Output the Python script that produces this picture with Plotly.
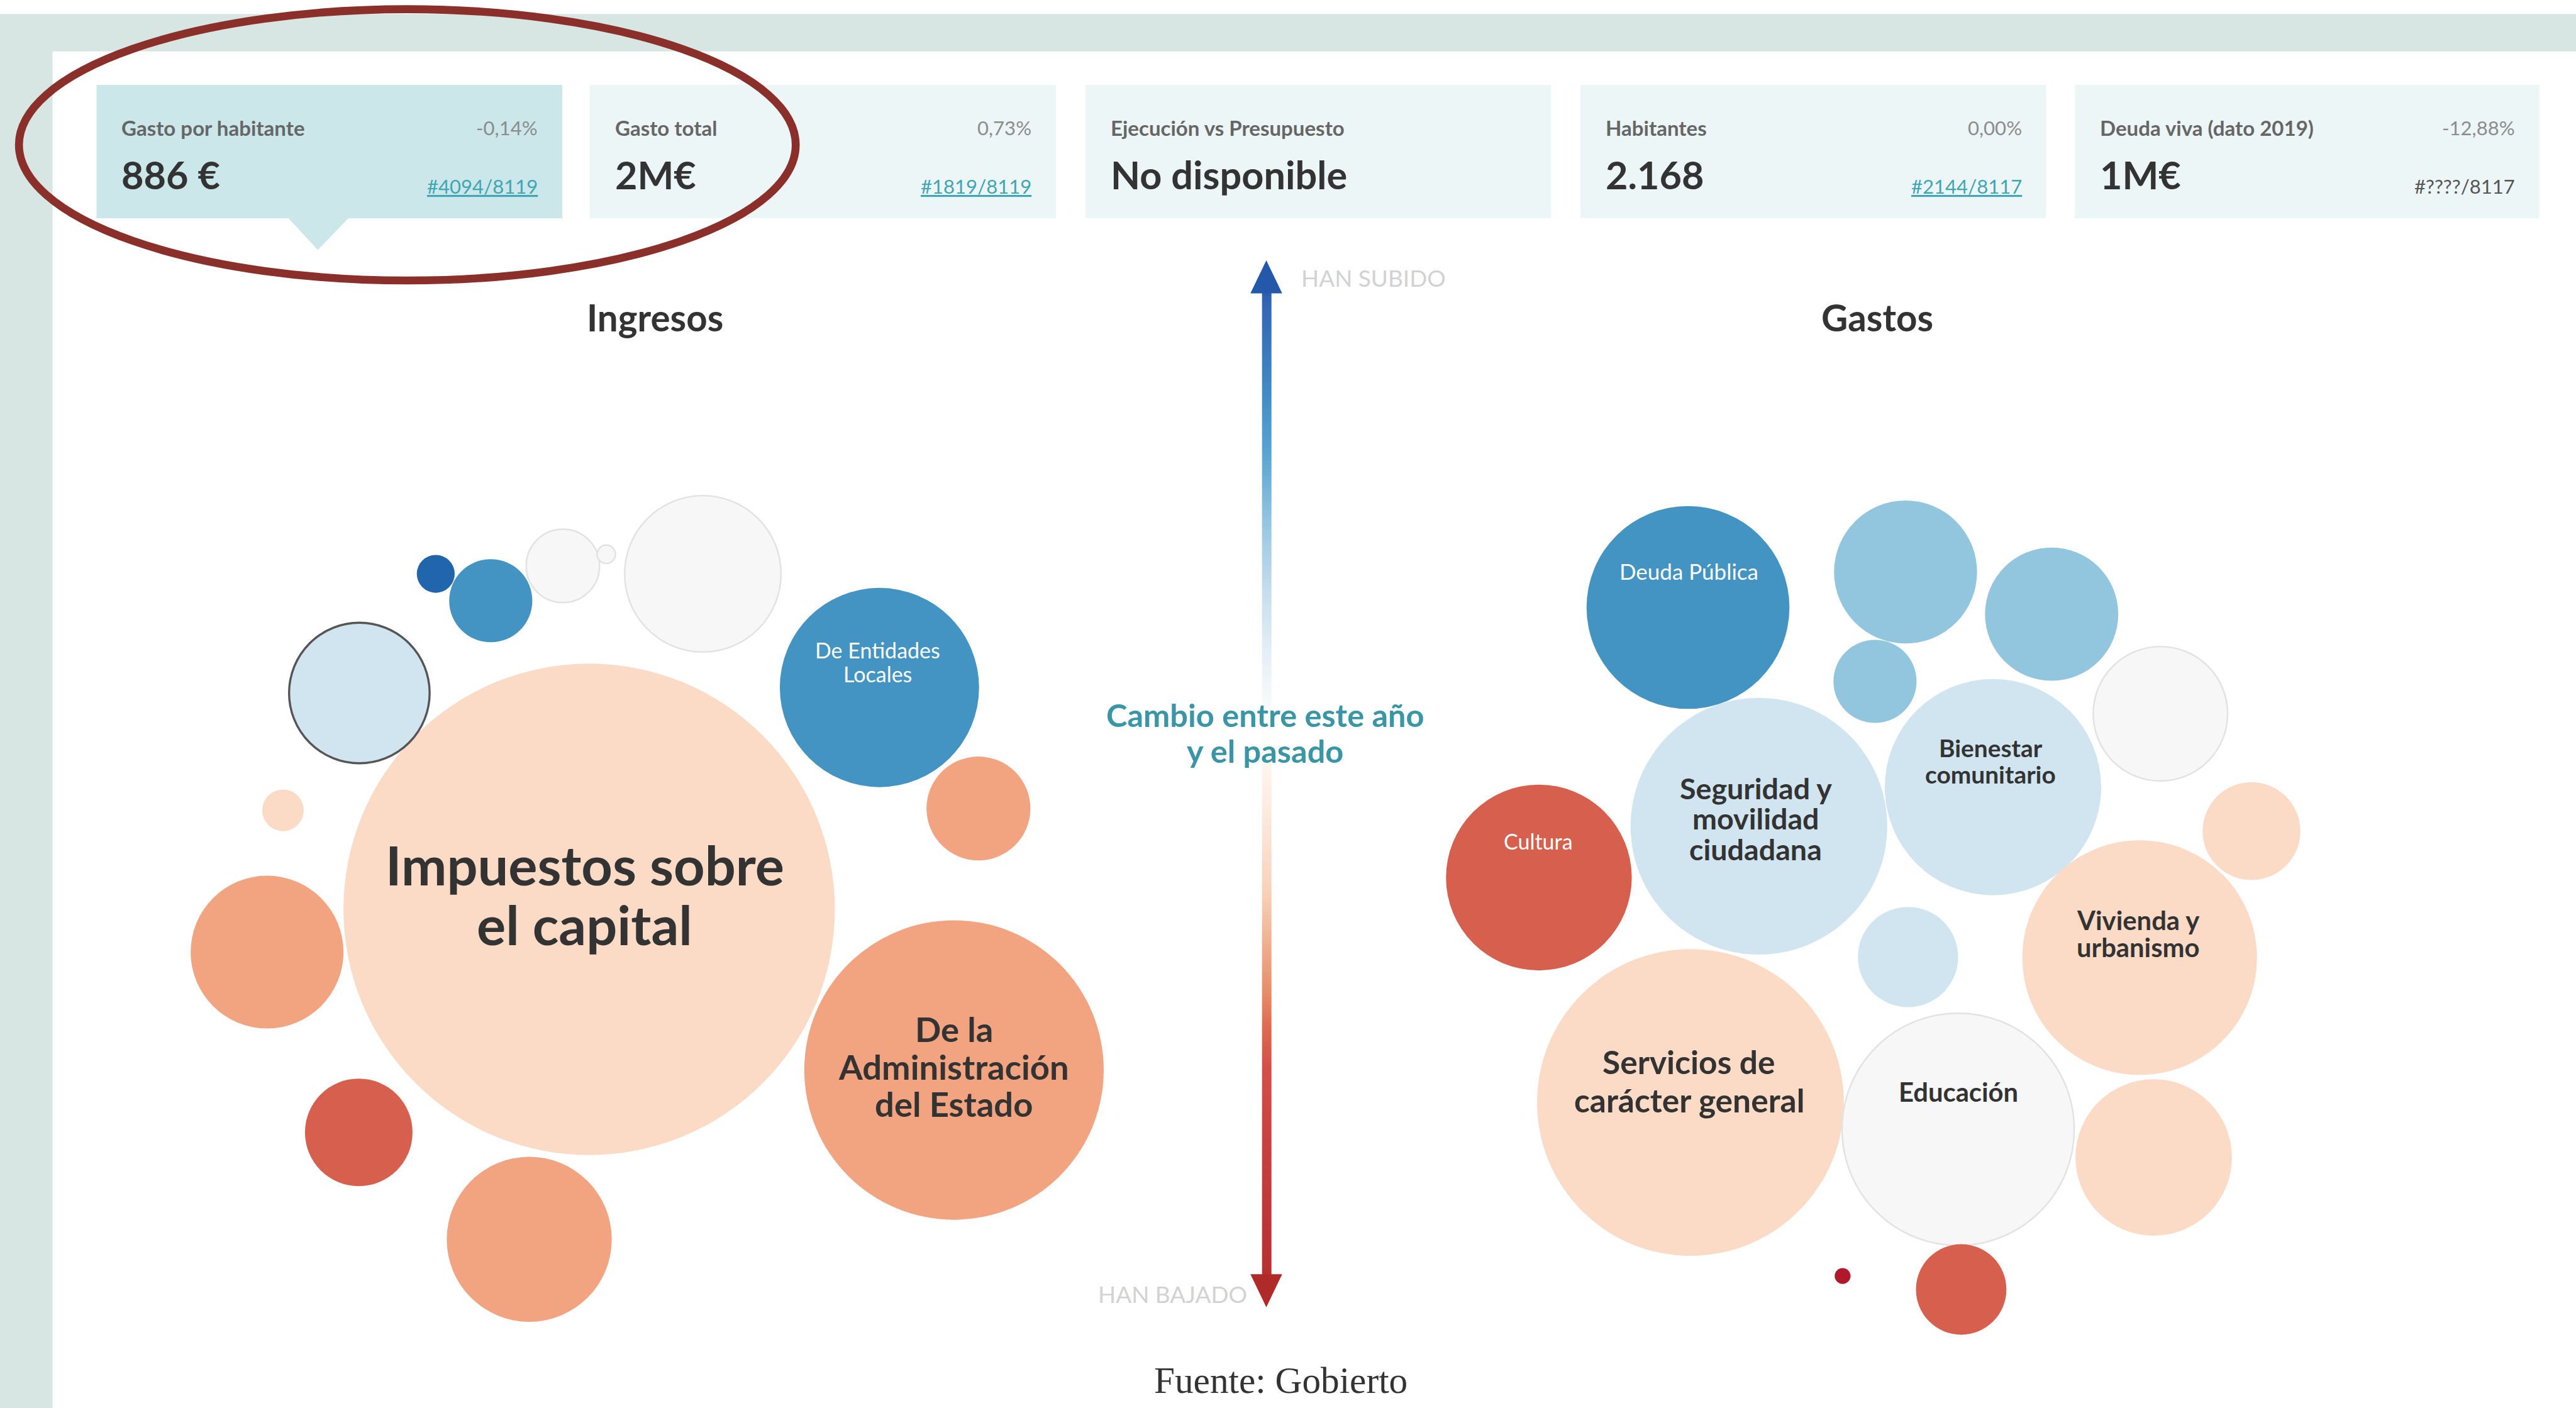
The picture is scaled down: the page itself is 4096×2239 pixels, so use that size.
import numpy as np
import plotly.graph_objects as go

# ---------------- data ----------------
card_labels = ["Gasto por habitante", "Gasto total", "Ejecución vs Presupuesto", "Habitantes", "Deuda viva (dato 2019)"]
card_values = ["886 €", "2M€", "No disponible", "2.168", "1M€"]
card_changes = ["-0,14%", "0,73%", "", "0,00%", "-12,88%"]
card_ranks = ["#4094/8119", "#1819/8119", "", "#2144/8117", "#????/8117"]

# Ingresos bubbles (centre, radius, change level +4 .. -4)
ing_x = [964, 1561, 1439, 588, 437, 587, 866, 1601, 1150, 921, 992, 803, 713, 463]
ing_y = [1488, 1751, 1125, 1134, 1558, 1853, 2028, 1323, 939, 926, 907, 983, 939, 1326]
ing_r = [402, 245, 163, 115, 125, 88, 135, 85, 128, 60, 15, 68, 31, 34]
ing_level = [-1, -2, 3, 1, -2, -3, -2, -2, 0, 0, 0, 3, 4, -1]

# Gastos bubbles
gas_x = [2762, 3118, 3357, 3068, 2878, 3261, 3535, 2518, 3684, 3501, 3122, 2766, 3204, 3524, 3209, 3015]
gas_y = [994, 936, 1005, 1115, 1352, 1288, 1168, 1436, 1360, 1567, 1566, 1804, 1848, 1894, 2110, 2088]
gas_r = [166, 117, 109, 68, 210, 177, 110, 152, 80, 192, 82, 251, 190, 128, 74, 13]
gas_level = [3, 2, 2, 2, 1, 1, 0, -3, -1, -1, 1, -1, 0, -1, -3, -4]

# bubble labels: text, x, first line y, line gap, size, colour, weight
bubble_labels = [
    ("Impuestos sobre\nel capital", 957, 1414, 98, 89, "#333333", 700),
    ("De la\nAdministración\ndel Estado", 1561, 1684, 61, 56, "#333333", 700),
    ("De Entidades\nLocales", 1436, 1064, 39, 35, "#ffffff", 400),
    ("Deuda Pública", 2764, 934, 0, 36, "#ffffff", 400),
    ("Seguridad y\nmovilidad\nciudadana", 2873, 1289, 50, 48, "#333333", 700),
    ("Bienestar\ncomunitario", 3257, 1224, 43, 40, "#333333", 700),
    ("Cultura", 2517, 1376, 0, 35, "#ffffff", 400),
    ("Vivienda y\nurbanismo", 3499, 1505, 45, 43, "#333333", 700),
    ("Servicios de\ncarácter general", 2764, 1737, 63, 53, "#333333", 700),
    ("Educación", 3204, 1786, 0, 43, "#333333", 700),
]

# ---------------- styles ----------------
W, H = 4215, 2304
K = 4096 / 4215
FONT = "Lato"

level_colors = {4: "#2166ac", 3: "#4393c3", 2: "#92c5de", 1: "#d1e5f0", 0: "#f7f7f7",
                -1: "#fbdac6", -2: "#f2a480", -3: "#d6604d", -4: "#b2182b"}

fig = go.Figure()
shapes = []
annotations = []


def ann(x, y, text, size, color, xanchor="center", weight=400, family=FONT, yanchor="middle"):
    annotations.append(dict(x=x, y=y, xref="x", yref="y", text=text, showarrow=False,
                            xanchor=xanchor, yanchor=yanchor,
                            font=dict(family=family, size=size * K, color=color, weight=weight)))


# background
shapes.append(dict(type="rect", xref="x", yref="y", x0=-50, x1=W + 50, y0=23, y1=H + 50,
                   fillcolor="#d7e5e3", line=dict(width=0), layer="below"))
shapes.append(dict(type="rect", xref="x", yref="y", x0=86, x1=W + 50, y0=84, y1=H + 50,
                   fillcolor="#ffffff", line=dict(width=0), layer="below"))

# cards
card_x = [(158, 920), (965, 1728), (1776, 2538), (2586, 3348), (3395, 4155)]
for i, (x0, x1) in enumerate(card_x):
    fill = "#cbe7ea" if i == 0 else "#edf6f7"
    shapes.append(dict(type="rect", xref="x", yref="y", x0=x0, x1=x1, y0=139, y1=357,
                       fillcolor=fill, line=dict(width=0), layer="below"))
    ann(x0 + 39, 209, card_labels[i], 34, "#666666", "left", 700)
    ann(x0 + 39, 286, card_values[i], 63, "#333333", "left", 700)
    if card_changes[i]:
        ann(x1 - 38, 209, card_changes[i], 32, "#8c8c8c", "right", 400)
    if card_ranks[i]:
        if "?" in card_ranks[i]:
            ann(x1 - 38, 305, card_ranks[i], 32, "#555555", "right", 400)
        else:
            ann(x1 - 38, 305, "<u>" + card_ranks[i] + "</u>", 32, "#3fa6b3", "right", 400)
shapes.append(dict(type="path", xref="x", yref="y", path="M 471 356 L 571 356 L 520 409 Z",
                   fillcolor="#cbe7ea", line=dict(width=0), layer="below"))

# bubbles
def bubble_trace(xs, ys, rs, levels, outlined=None):
    colors = [level_colors[l] for l in levels]
    lcol, lw = [], []
    for j, l in enumerate(levels):
        if outlined is not None and j == outlined:
            lcol.append("#555555"); lw.append(3.5 * K)
        elif l == 0:
            lcol.append("#e2e2e2"); lw.append(2.5 * K)
        else:
            lcol.append("rgba(0,0,0,0)"); lw.append(0)
    return go.Scatter(x=xs, y=ys, mode="markers", hoverinfo="skip", showlegend=False,
                      marker=dict(size=[2 * r * K for r in rs], sizemode="diameter", color=colors,
                                  opacity=1, line=dict(color=lcol, width=lw)))

fig.add_trace(bubble_trace(ing_x, ing_y, ing_r, ing_level, outlined=3))
fig.add_trace(bubble_trace(gas_x, gas_y, gas_r, gas_level))

for text, x, y0, gap, size, color, weight in bubble_labels:
    for j, line in enumerate(text.split("\n")):
        ann(x, y0 + j * gap, line, size, color, "center", weight)

# gradient arrow shaft
y_top, y_bot = 478, 2087
edges = np.linspace(y_top, y_bot, 241)
centers = (edges[:-1] + edges[1:]) / 2
def p(y):
    return (y - y_top) / (y_bot - y_top)
cscale = [
    [0.0, "#2b5fae"], [p(502), "#3467b3"], [p(625), "#3f86c2"], [p(747), "#5aa6d2"],
    [p(870), "#9dc9e2"], [p(992), "#cfe2ef"], [p(1084), "#e9f1f7"], [p(1190), "#ffffff"],
    [p(1370), "#fae3d5"], [p(1463), "#f8d0b8"], [p(1617), "#e8906c"], [p(1684), "#dd6a50"],
    [p(1740), "#d4514a"], [p(1893), "#c43f3f"], [1.0, "#b53030"],
]
fig.add_trace(go.Heatmap(x=[2065, 2080], y=edges, z=centers.reshape(-1, 1), zmin=y_top, zmax=y_bot,
                         colorscale=cscale, showscale=False, hoverinfo="skip"))
shapes.append(dict(type="path", xref="x", yref="y", path="M 2072 426 L 2046 480 L 2098 480 Z",
                   fillcolor="#2458aa", line=dict(width=0)))
shapes.append(dict(type="path", xref="x", yref="y", path="M 2072 2139 L 2046 2085 L 2098 2085 Z",
                   fillcolor="#b02a2a", line=dict(width=0)))

ann(2127, 455, "HAN SUBIDO", 38, "#d2d2d2", "left", 400)
ann(2043, 2118, "HAN BAJADO", 38, "#d2d2d2", "right", 400)
ann(2070, 1170, "Cambio entre este año", 52, "#3a96a6", "center", 700)
ann(2070, 1228, "y el pasado", 52, "#3a96a6", "center", 700)

ann(1072, 519, "Ingresos", 60, "#333333", "center", 700)
ann(3072, 519, "Gastos", 60, "#333333", "center", 700)

ann(2096, 2259, "Fuente: Gobierto", 61, "#333333", "center", 400, family="Liberation Serif")

# highlight ellipse
shapes.append(dict(type="circle", xref="x", yref="y", x0=31, x1=1302, y0=15, y1=459,
                   line=dict(color="#8a2f29", width=13 * K), fillcolor="rgba(0,0,0,0)", layer="above"))

fig.update_layout(
    width=4096, height=2239,
    margin=dict(l=0, r=0, t=0, b=0),
    paper_bgcolor="#ffffff", plot_bgcolor="rgba(0,0,0,0)",
    xaxis=dict(range=[0, W], visible=False, fixedrange=True),
    yaxis=dict(range=[H, 0], visible=False, fixedrange=True),
    shapes=shapes, annotations=annotations, showlegend=False,
)
fig.write_html("out.html", config={"displayModeBar": False, "staticPlot": True},
               post_script="document.body.style.margin='0';document.body.style.overflow='hidden';")
